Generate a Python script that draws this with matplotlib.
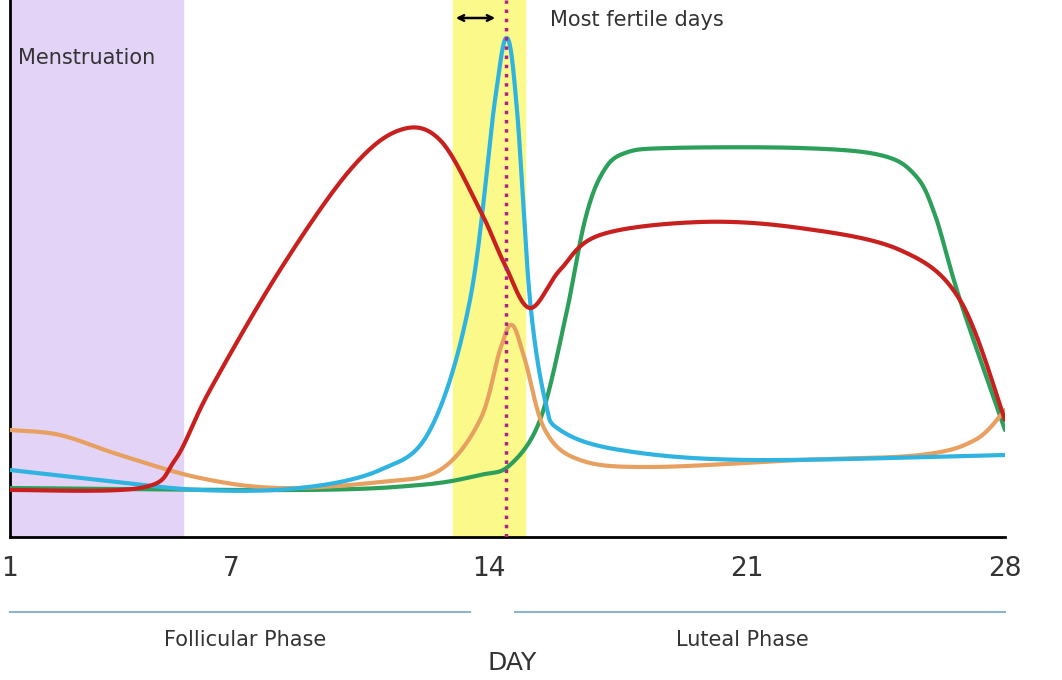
import numpy as np
import matplotlib
matplotlib.use("Agg")
import matplotlib.pyplot as plt
from matplotlib.lines import Line2D

W, H = 1062, 680
AX_L, AX_R, AX_B = 10, 1005, 537

def px2day(p):
    return 1 + (np.asarray(p, float) - AX_L) / (AX_R - AX_L) * 27

def py2v(p):
    return AX_B - np.asarray(p, float)

# hormone curves (pixel positions -> day, level)
estrogen_px = [(10,490),(140,488),(175,460),(210,390),(280,270),(350,170),(400,130),(440,140),(480,210),(505,265),(530,308),(560,270),(600,235),(700,222),(800,228),(900,250),(960,300),(1005,420)]
lh_px = [(10,470),(100,480),(200,490),(300,488),(380,470),(430,430),(470,300),(495,100),(507,38),(517,110),(530,300),(545,400),(560,430),(620,450),(750,460),(1005,455)]
fsh_px = [(10,430),(60,435),(120,455),(200,478),(280,488),(380,482),(440,470),(480,420),(500,350),(512,325),(525,360),(545,430),(580,460),(650,467),(800,460),(920,455),(975,440),(1005,410)]
prog_px = [(10,488),(300,490),(420,485),(480,475),(510,465),(540,420),(565,320),(585,220),(603,172),(625,153),(670,148),(800,148),(880,155),(915,175),(935,215),(960,300),(1005,430)]

tick_days = [1, 7, 14, 21, 28]
tick_labels = ["1", "7", "14", "21", "28"]

def catmull(pts, n=30):
    P = np.array(pts, float)
    P = np.vstack([P[0], P, P[-1]])
    out = []
    for i in range(1, len(P) - 2):
        p0, p1, p2, p3 = P[i-1], P[i], P[i+1], P[i+2]
        t = np.linspace(0, 1, n)[:, None]
        c = 0.5 * ((2*p1) + (-p0+p2)*t + (2*p0-5*p1+4*p2-p3)*t**2 + (-p0+3*p1-3*p2+p3)*t**3)
        out.append(c)
    return np.vstack(out)

fig = plt.figure(figsize=(W/100, H/100), dpi=100)
ax = fig.add_axes([AX_L/W, (H-AX_B)/H, (AX_R-AX_L)/W, AX_B/H])
ax.set_xlim(1, 28)
ax.set_ylim(0, AX_B)

ax.axvspan(px2day(10), px2day(183), color="#e3d4f7", zorder=0)
ax.axvspan(px2day(453), px2day(525), color="#fbf98a", zorder=0)

for pts, col in [(prog_px, "#2ca05a"), (fsh_px, "#e8a060"), (lh_px, "#2fb3e0"), (estrogen_px, "#c8201e")]:
    c = catmull(pts)
    ax.plot(px2day(c[:, 0]), py2v(c[:, 1]), color=col, lw=3, solid_capstyle="round", zorder=3)

ax.axvline(px2day(506), color="#b0208a", ls=":", lw=2.5, zorder=4)
ax.annotate("", xy=(px2day(498), py2v(18)), xytext=(px2day(453), py2v(18)),
            arrowprops=dict(arrowstyle="<->", color="black", lw=1.8), zorder=5)
ax.text(px2day(550), py2v(20), "Most fertile days", fontsize=15, va="center", color="#333333")
ax.text(px2day(18), py2v(58), "Menstruation", fontsize=15, va="center", color="#333333")

ax.set_yticks([])
ax.set_xticks(tick_days)
ax.set_xticklabels(tick_labels, fontsize=19, color="#333333")
ax.tick_params(axis="x", length=0, pad=14)
for s in ["top", "right"]:
    ax.spines[s].set_visible(False)
for s in ["left", "bottom"]:
    ax.spines[s].set_linewidth(2)

fig.add_artist(Line2D([10/W, 470/W], [1-612/H]*2, color="#8fb3c8", lw=1.5))
fig.add_artist(Line2D([515/W, 1005/W], [1-612/H]*2, color="#8fb3c8", lw=1.5))
fig.text(245/W, 1-640/H, "Follicular Phase", fontsize=15, ha="center", va="center", color="#333333")
fig.text(742/W, 1-640/H, "Luteal Phase", fontsize=15, ha="center", va="center", color="#333333")
fig.text(512/W, 1-663/H, "DAY", fontsize=18, ha="center", va="center", color="#333333")

fig.savefig("out.png", dpi=100)
